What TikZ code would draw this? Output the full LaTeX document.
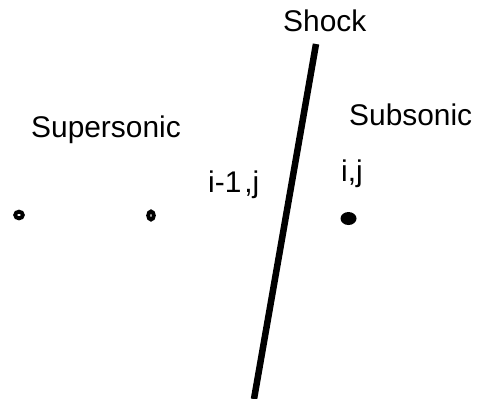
\documentclass[tikz,border=0pt]{standalone}
\usepackage{fontspec}
\setmainfont{Liberation Sans}
\begin{document}
\begin{tikzpicture}[x=1bp,y=-1bp,
  lbl/.style={inner sep=0pt, anchor=base west, font=\fontsize{30}{34}\selectfont},
  ring/.style={draw=black, line width=3.9bp, fill=white}]
\useasboundingbox (0,0) rectangle (481,398);
\node[lbl] (shock) at (283,31) {Shock};
\node[lbl] (super) at (31,137) {Supersonic};
\node[lbl] (sub) at (349,125) {Subsonic};
\node[lbl] (im1) at (208,192) {i-1\kern3bp,j};
\node[lbl] (ij) at (341,181) {i,j};
\coordinate (stop) at (316,44);
\coordinate (sbot) at (254,399);
\draw[line width=6.5bp] (stop) -- (sbot);
\draw[ring] (19,215) ellipse [x radius=3.8, y radius=3.3];
\draw[ring] (151,215.5) ellipse [x radius=2.8, y radius=4];
\fill (348.5,218.5) ellipse [x radius=8, y radius=6.5];
\end{tikzpicture}
\end{document}
